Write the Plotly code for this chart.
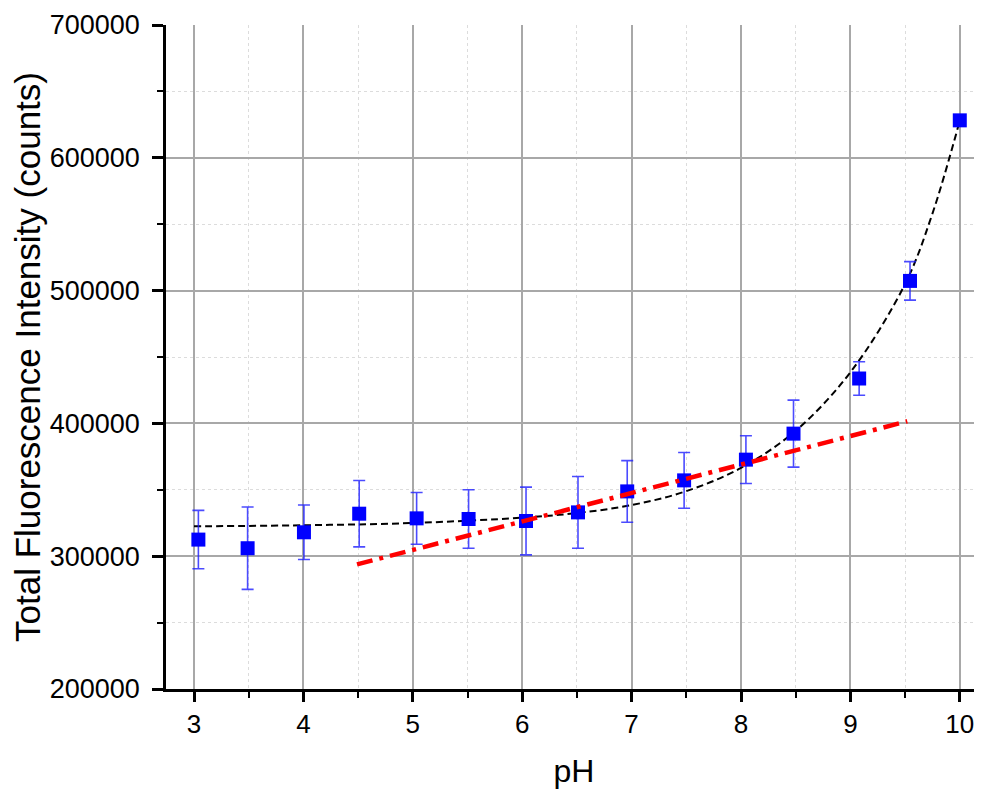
import plotly.graph_objects as go

# Measured data
ph = [3.04, 3.49, 4.005, 4.51, 5.035, 5.51, 6.035, 6.51, 6.96, 7.48, 8.045, 8.48, 9.08, 9.545, 10.0]
intensity = [312500, 306000, 318000, 332000, 328500, 328000, 326500, 333000, 348800, 357100,
             372700, 392300, 433800, 507300, 628200]
err = [22000, 31000, 20500, 25000, 19500, 22000, 25500, 27000, 23200, 21000, 18000, 25200,
       12600, 14500, 3000]

# Exponential fit curve
fit_x = [3, 4, 5, 6, 6.5, 7, 7.5, 8, 8.5, 9, 9.5, 9.75, 10]
fit_y = [322500, 323300, 325000, 329000, 332500, 338500, 349000, 366500, 394500, 438500,
         505000, 558000, 628000]

# Linear fit
lin_x = [4.49, 9.52]
lin_y = [293800, 401600]

x_ticks = [3, 4, 5, 6, 7, 8, 9, 10]
y_ticks = [200000, 300000, 400000, 500000, 600000, 700000]

fig = go.Figure()

fig.add_trace(go.Scatter(
    x=fit_x, y=fit_y, mode="lines", line_shape="spline",
    line=dict(color="black", width=2, dash="7px,4px"), showlegend=False))

fig.add_trace(go.Scatter(
    x=ph, y=intensity, mode="markers",
    marker=dict(symbol="square", size=14, color="#0000ff"),
    error_y=dict(type="data", array=err, visible=True, color="rgba(30,30,255,0.8)",
                 thickness=1.6, width=6),
    showlegend=False))

fig.add_trace(go.Scatter(
    x=lin_x, y=lin_y, mode="lines",
    line=dict(color="#ff0000", width=4.5, dash="16px,7px,4px,7px"), showlegend=False))

font_family = "Liberation Sans, Arial, sans-serif"

fig.update_layout(
    width=974, height=781,
    margin=dict(l=158, r=0, t=17, b=100),
    paper_bgcolor="white", plot_bgcolor="white",
    font=dict(family=font_family, color="black"),
    xaxis=dict(
        range=[2.744, 10.203], tickvals=x_ticks, ticktext=[str(v) for v in x_ticks],
        showline=True, linecolor="black", linewidth=2.5,
        ticks="outside", ticklen=10, tickwidth=2.5, tickcolor="black",
        tickfont=dict(size=26, family=font_family),
        showgrid=True, gridcolor="#a8a8a8", gridwidth=1.5,
        minor=dict(dtick=0.5, tick0=0, ticks="outside", ticklen=6, tickwidth=2,
                   tickcolor="black", showgrid=True, gridcolor="#dcdcdc",
                   griddash="dot", gridwidth=1),
        zeroline=False,
        title=dict(text="pH", font=dict(size=32, family=font_family), standoff=22),
    ),
    yaxis=dict(
        range=[200000, 700000], tickvals=y_ticks, ticktext=[str(v) for v in y_ticks],
        showline=True, linecolor="black", linewidth=2.5,
        ticks="outside", ticklen=11, tickwidth=2.5, tickcolor="black",
        ticklabelstandoff=7,
        tickfont=dict(size=27, family=font_family),
        showgrid=True, gridcolor="#a8a8a8", gridwidth=1.5,
        minor=dict(dtick=50000, tick0=0, ticks="outside", ticklen=6, tickwidth=2,
                   tickcolor="black", showgrid=True, gridcolor="#dcdcdc",
                   griddash="dot", gridwidth=1),
        zeroline=False,
        title=dict(text="Total Fluorescence Intensity (counts)",
                   font=dict(size=35, family=font_family), standoff=13),
    ),
)

fig.write_html("out.html")
